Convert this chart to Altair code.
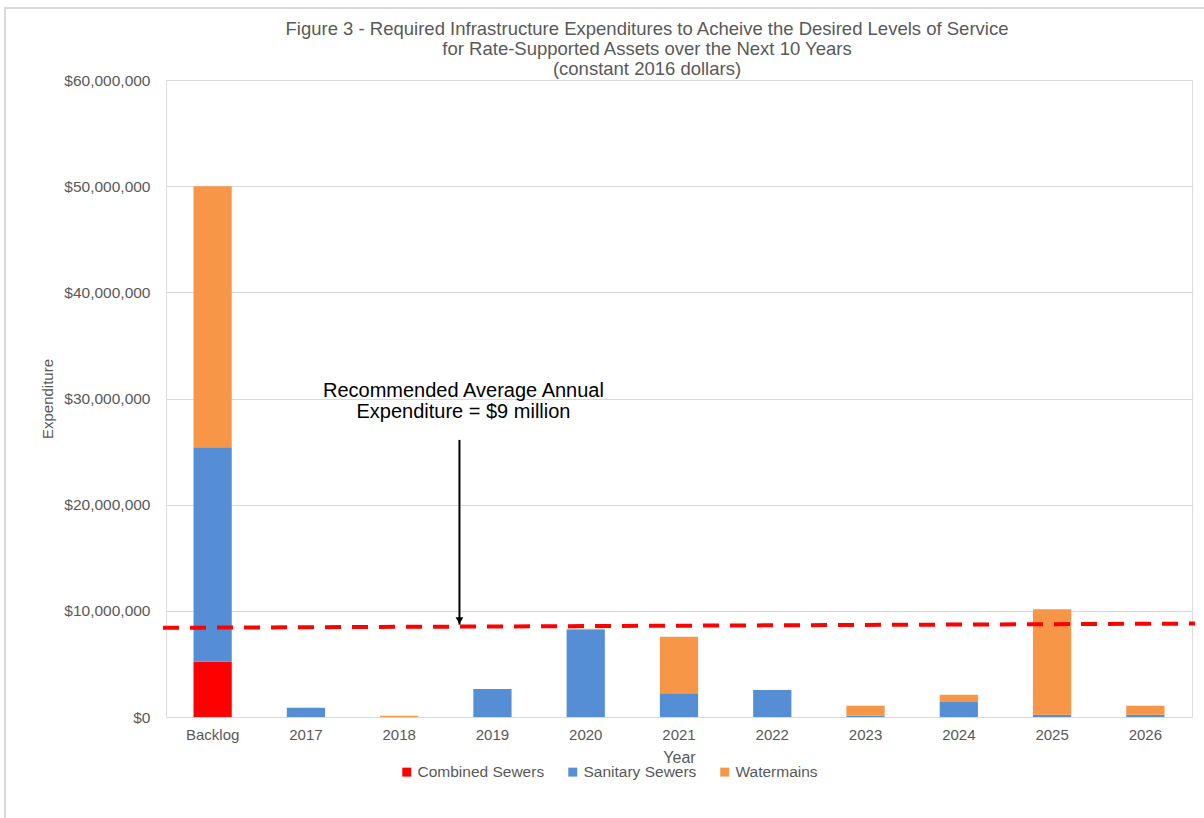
import altair as alt
import pandas as pd

# Expenditure by asset class and year (constant 2016 dollars)
years = ["Backlog", "2017", "2018", "2019", "2020", "2021",
         "2022", "2023", "2024", "2025", "2026"]
combined_sewers = [5.2e6, 0, 0, 0, 0, 0, 0, 0, 0, 0, 0]
sanitary_sewers = [20.2e6, 0.88e6, 0, 2.64e6, 8.25e6, 2.23e6,
                   2.54e6, 0.12e6, 1.41e6, 0.22e6, 0.22e6]
watermains = [24.6e6, 0, 0.12e6, 0, 0.06e6, 5.33e6,
              0, 0.94e6, 0.69e6, 9.92e6, 0.84e6]

series_names = ["Combined Sewers", "Sanitary Sewers", "Watermains"]
series_colors = ["#FF0000", "#558ED5", "#F79646"]

# Recommended average annual expenditure trend (start / end level)
avg_line_start = 8.4e6
avg_line_end = 8.8e6

# Callout
note_lines = ["Recommended Average Annual", "Expenditure  = $9 million"]
note_y = 30.7e6
arrow_top = 26.1e6
arrow_tip = 8.7e6

W, H = 1026, 637
grey = "#595959"
font = "Liberation Sans"

rows = []
for i, y in enumerate(years):
    for k, (name, vals) in enumerate(zip(series_names,
                                         [combined_sewers, sanitary_sewers, watermains])):
        rows.append({"Year": y, "Series": name, "Value": vals[i], "order": k})
df = pd.DataFrame(rows)

x_enc = alt.X("Year:N", sort=years,
              scale=alt.Scale(paddingInner=0.59, paddingOuter=0.295),
              axis=alt.Axis(title="Year", labelAngle=0, ticks=False, domain=False,
                            labelFontSize=15, labelColor=grey, labelPadding=10,
                            titleFontSize=16, titleColor=grey, titleFontWeight="normal",
                            titlePadding=7, labelFont=font, titleFont=font))

bars = alt.Chart(df).mark_bar().encode(
    x=x_enc,
    y=alt.Y("Value:Q", stack="zero",
            scale=alt.Scale(domain=[0, 60e6]),
            axis=alt.Axis(title="Expenditure", values=[0, 10e6, 20e6, 30e6, 40e6, 50e6, 60e6],
                          labelExpr="'$' + format(datum.value, ',.0f')",
                          ticks=False, domain=False, gridColor="#D9D9D9",
                          labelFontSize=15.5, labelColor=grey, labelPadding=16,
                          titleFontSize=15, titleColor=grey, titleFontWeight="normal",
                          titlePadding=8, labelFont=font, titleFont=font)),
    color=alt.Color("Series:N", sort=series_names,
                    scale=alt.Scale(domain=series_names, range=series_colors),
                    legend=alt.Legend(title=None, orient="none", direction="horizontal",
                                      legendX=233, legendY=684, symbolType="square",
                                      symbolSize=80, symbolStrokeWidth=0,
                                      labelFontSize=15.5, labelColor=grey, labelFont=font,
                                      labelOffset=3, columnPadding=20)),
    order=alt.Order("order:Q", sort="ascending"),
)

avg_df = pd.DataFrame({"start": [avg_line_start], "end": [avg_line_end]})
avg_line = alt.Chart(avg_df).mark_rule(
    color="#FF0000", strokeWidth=4, strokeDash=[16, 11], clip=False
).encode(
    x=alt.value(-3), x2=alt.value(W + 3),
    y=alt.Y("start:Q"), y2="end:Q",
)

note_df = pd.DataFrame({"Year": ["2019"], "y": [note_y], "top": [arrow_top], "tip": [arrow_tip],
                        "text": [note_lines]})
note = alt.Chart(note_df).mark_text(
    fontSize=20, font=font, color="#000000", align="center", baseline="middle",
    lineHeight=21, xOffset=-29
).encode(x=alt.X("Year:N", sort=years), y="y:Q", text="text")

arrow_shaft = alt.Chart(note_df).mark_rule(
    color="#000000", strokeWidth=2, xOffset=-33
).encode(x=alt.X("Year:N", sort=years), y="top:Q", y2="tip:Q")

arrow_head = alt.Chart(note_df).mark_point(
    shape="triangle-down", filled=True, color="#000000", size=60, opacity=1,
    xOffset=-33, yOffset=-4
).encode(x=alt.X("Year:N", sort=years), y="tip:Q")

# thin grey frame around the whole figure
frame = alt.Chart(avg_df).mark_rect(
    fill=None, stroke="#D9D9D9", strokeWidth=2, clip=False
).encode(x=alt.value(-161), x2=alt.value(W + 40), y=alt.value(-72), y2=alt.value(H + 140))

chart = alt.layer(frame, bars, avg_line, arrow_shaft, arrow_head, note).properties(
    width=W, height=H,
    title=alt.TitleParams(
        text=["Figure 3 - Required Infrastructure Expenditures to Acheive the Desired Levels of Service",
              "for Rate-Supported Assets over the Next 10 Years",
              "(constant 2016 dollars)"],
        fontSize=18.5, font=font, color=grey, fontWeight="normal",
        anchor="middle", dx=-32, lineHeight=20, offset=-71),
    autosize=alt.AutoSizeParams(type="none"),
    padding={"left": 166, "top": 80, "right": 12, "bottom": 101},
).configure_view(stroke=None).configure(background="white")

chart.save("out.html", embed_options={"renderer": "svg", "actions": False})
